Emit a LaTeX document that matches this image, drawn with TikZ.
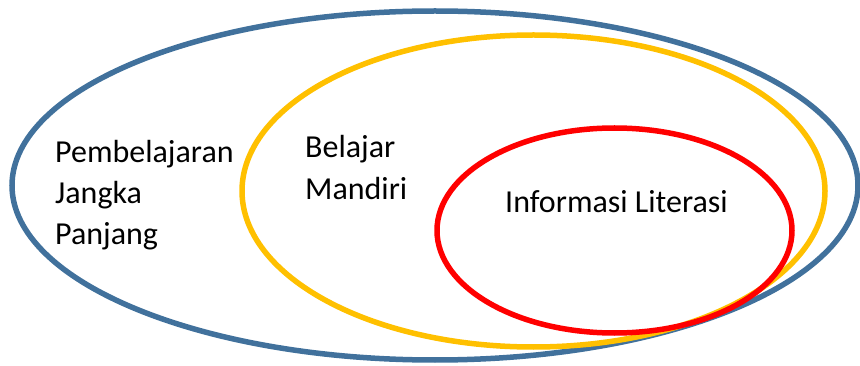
\documentclass[tikz,border=0pt]{standalone}
\usepackage{fontspec}
\setmainfont{Carlito}
\definecolor{outerblue}{HTML}{41719C}
\definecolor{midyellow}{HTML}{FFC000}
\definecolor{innerred}{HTML}{FF0000}
\begin{document}
\begin{tikzpicture}[x=1pt,y=-1pt,
  ring/.style={line width=5.5pt},
  lbl/.style={anchor=base west,inner sep=0pt,font=\fontsize{32}{41}\selectfont}]
\useasboundingbox (0,0) rectangle (860,366);
\draw[ring,outerblue] (435,185.5) ellipse [x radius=423, y radius=174.5];
\draw[ring,midyellow] (533.5,191) ellipse [x radius=291.5, y radius=156];
\draw[ring,innerred] (614.5,230.5) ellipse [x radius=177.5, y radius=102.5];
\node[lbl] (pjp) at (55,163) {\vtop{\baselineskip=41pt\hbox{Pembelajaran}\hbox{Jangka}\hbox{Panjang}}};
\node[lbl] (bm) at (305,158) {\vtop{\baselineskip=42pt\hbox{Belajar}\hbox{Mandiri}}};
\node[lbl] (il) at (505,213) {Informasi Literasi};
\end{tikzpicture}
\end{document}
